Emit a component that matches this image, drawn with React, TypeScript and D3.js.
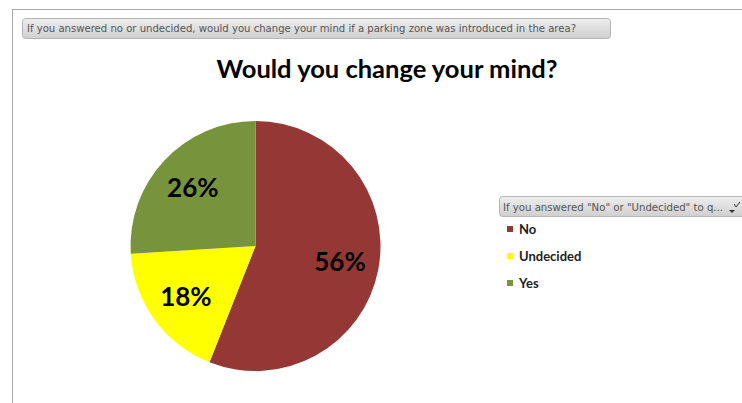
import React from "react";
import * as d3 from "d3";

const categories = ["No", "Undecided", "Yes"];
const values = [56, 18, 26];
const colors = ["#953735", "#FFFF00", "#77933C"];
const chartTitle = "Would you change your mind?";
const headerText = "If you answered no or undecided, would you change your mind if a parking zone was introduced in the area?";
const legendHeader = "If you answered \"No\" or \"Undecided\" to q...";

const W = 742;
const H = 403;

export default function App() {
  const cx = 255.5;
  const cy = 246;
  const r = 125;
  const pie = d3.pie<number>().sort(null).value((d) => d);
  const arcs = pie(values);
  const arc = d3.arc<d3.PieArcDatum<number>>().innerRadius(0).outerRadius(r);
  const labelArc = d3.arc<d3.PieArcDatum<number>>().innerRadius(86).outerRadius(86);
  const font = "Lato, 'Open Sans', sans-serif";

  return (
    <svg width={W} height={H} style={{ position: "absolute", left: 0, top: 0, background: "#fff" }}>
      <defs>
        <linearGradient id="hdr" x1="0" y1="0" x2="0" y2="1">
          <stop offset="0" stopColor="#eeeeee" />
          <stop offset="1" stopColor="#cfcfcf" />
        </linearGradient>
      </defs>
      <rect x={0} y={0} width={W} height={H} fill="#fff" />
      <line x1={12} y1={9.5} x2={W} y2={9.5} stroke="#a8a8a8" strokeWidth={1} />
      <line x1={12.5} y1={9} x2={12.5} y2={H} stroke="#a8a8a8" strokeWidth={1} />
      <rect x={22.5} y={18.5} width={588} height={20} rx={3} fill="url(#hdr)" stroke="#b5b5b5" />
      <text x={27} y={32} fontFamily="Tahoma, 'DejaVu Sans', sans-serif" fontSize={10} fill="#555" textLength={549} lengthAdjust="spacingAndGlyphs">
        {headerText}
      </text>
      <text x={387} y={78} textAnchor="middle" fontFamily={font} fontWeight="bold" fontSize={25.5} fill="#000">
        {chartTitle}
      </text>
      <g transform={`translate(${cx},${cy})`}>
        {arcs.map((a, i) => (
          <path key={categories[i]} d={arc(a) || ""} fill={colors[i]} />
        ))}
        {arcs.map((a, i) => {
          const [x, y] = labelArc.centroid(a);
          return (
            <text key={"l" + i} x={x} y={y} dy="0.36em" textAnchor="middle" fontFamily={font} fontWeight="bold" fontSize={26} fill="#000">
              {values[i]}%
            </text>
          );
        })}
      </g>
      <rect x={499.5} y={196.5} width={250} height={20} rx={3} fill="url(#hdr)" stroke="#b5b5b5" />
      <text x={503} y={210.5} fontFamily="Tahoma, 'DejaVu Sans', sans-serif" fontSize={10} fill="#555" textLength={220} lengthAdjust="spacingAndGlyphs">
        {legendHeader}
      </text>
      <path d="M729,210 l6,0 l-3,3 z" fill="#333" />
      <path d="M734,204 l2,3 l4,-5" fill="none" stroke="#333" strokeWidth={1} />
      {categories.map((c, i) => (
        <g key={"lg" + c} transform={`translate(507,${229 + i * 27})`}>
          <rect x={0} y={-3} width={6} height={6} fill={colors[i]} />
          <text x={12} y={0} dy="0.35em" fontFamily={font} fontWeight="bold" fontSize={13} fill="#222">
            {c}
          </text>
        </g>
      ))}
    </svg>
  );
}
